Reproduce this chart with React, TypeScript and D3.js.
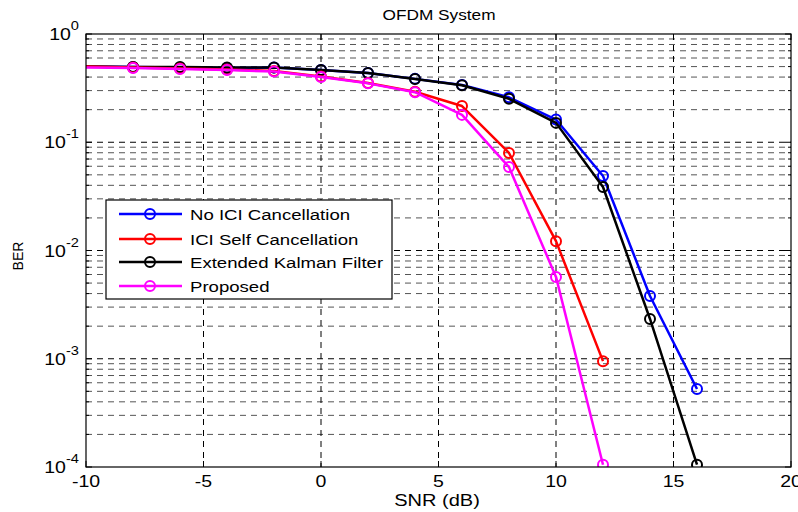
import React from "react";
import * as d3 from "d3";

const snr = [-10, -8, -6, -4, -2, 0, 2, 4, 6, 8, 10, 12, 14, 16];
const noICI = [0.5, 0.495, 0.49, 0.485, 0.49, 0.465, 0.436, 0.385, 0.338, 0.26, 0.162, 0.0488, 0.0038, 0.000525];
const iciSelf = [0.5, 0.49, 0.48, 0.47, 0.455, 0.405, 0.353, 0.293, 0.216, 0.0796, 0.0122, 0.00095];
const ekf = [0.5, 0.495, 0.495, 0.49, 0.49, 0.465, 0.436, 0.384, 0.336, 0.252, 0.151, 0.0386, 0.00233, 0.000105];
const proposed = [0.49, 0.485, 0.475, 0.465, 0.45, 0.4, 0.35, 0.29, 0.179, 0.059, 0.0057, 0.000105];

const seriesNames = ["No ICI Cancellation", "ICI Self Cancellation", "Extended Kalman Filter", "Proposed"];
const seriesValues = [noICI, iciSelf, ekf, proposed];
const seriesColors = ["#0000ff", "#ff0000", "#000000", "#ff00ff"];
const drawOrder = [0, 2, 1, 3];

const xTicks = [-10, -5, 0, 5, 10, 15, 20];
const yExps = [0, -1, -2, -3, -4];
const title = "OFDM System";
const xLabel = "SNR (dB)";
const yLabel = "BER";

const W = 798, H = 512;
const L = 86, R = 791, T = 34, B = 467;
const FONT = "'Liberation Sans', Arial, Helvetica, sans-serif";
const SX = 1.22;

function WText({ x, y, anchor = "start", size = 16, sx = SX, children }: any) {
  return (
    <text transform={`translate(${x},${y}) scale(${sx},1)`} textAnchor={anchor} fontSize={size} fill="#000">
      {children}
    </text>
  );
}

export default function App() {
  const x = d3.scaleLinear().domain([-10, 20]).range([L, R]);
  const y = d3.scaleLog().domain([1e-4, 1]).range([B, T]);
  const line = d3.line<[number, number]>().x(d => x(d[0])).y(d => y(d[1]));

  const minor: number[] = [];
  for (let e = -4; e < 0; e++) for (let m = 2; m <= 9; m++) minor.push(m * Math.pow(10, e));

  const dash = "6,5";
  return (
    <svg width={W} height={H} style={{ position: "absolute", left: 0, top: 0, background: "#fff" }} fontFamily={FONT}>
      <defs>
        <clipPath id="plot"><rect x={L} y={T} width={R - L} height={B - T} /></clipPath>
      </defs>
      <rect x={0} y={0} width={W} height={H} fill="#fff" />
      <g stroke="#000" strokeWidth={1} strokeDasharray={dash} fill="none">
        {minor.map((v, i) => (
          <line key={"m" + i} x1={L} x2={R} y1={y(v)} y2={y(v)} stroke="#555" />
        ))}
        {yExps.slice(1, 4).map(e => (
          <line key={"y" + e} x1={L} x2={R} y1={y(Math.pow(10, e))} y2={y(Math.pow(10, e))} />
        ))}
        {xTicks.slice(1, -1).map(t => (
          <line key={"x" + t} x1={x(t)} x2={x(t)} y1={T} y2={B} />
        ))}
      </g>
      <g stroke="#000" strokeWidth={1}>
        {xTicks.map(t => (
          <g key={"xt" + t}>
            <line x1={x(t)} x2={x(t)} y1={B} y2={B - 6} />
            <line x1={x(t)} x2={x(t)} y1={T} y2={T + 6} />
          </g>
        ))}
        {yExps.map(e => (
          <g key={"yt" + e}>
            <line x1={L} x2={L + 6} y1={y(Math.pow(10, e))} y2={y(Math.pow(10, e))} />
            <line x1={R} x2={R - 6} y1={y(Math.pow(10, e))} y2={y(Math.pow(10, e))} />
          </g>
        ))}
        {minor.map((v, i) => (
          <g key={"mt" + i}>
            <line x1={L} x2={L + 3} y1={y(v)} y2={y(v)} />
            <line x1={R} x2={R - 3} y1={y(v)} y2={y(v)} />
          </g>
        ))}
      </g>
      <g clipPath="url(#plot)">
        {drawOrder.map(si => {
          const pts: [number, number][] = seriesValues[si].map((v, i) => [snr[i], v]);
          return (
            <g key={"s" + si}>
              <path d={line(pts) || ""} fill="none" stroke={seriesColors[si]} strokeWidth={2.5} strokeLinejoin="round" />
              {pts.filter(p => p[0] > -10).map((p, i) => (
                <circle key={i} cx={x(p[0])} cy={y(p[1])} r={5} fill="none" stroke={seriesColors[si]} strokeWidth={2} />
              ))}
            </g>
          );
        })}
      </g>
      <rect x={L} y={T} width={R - L} height={B - T} fill="none" stroke="#000" strokeWidth={1.2} />
      {xTicks.map(t => (
        <WText key={"xl" + t} x={x(t)} y={487} anchor="middle">{t}</WText>
      ))}
      {yExps.map(e => (
        <WText key={"yl" + e} x={79} y={y(Math.pow(10, e)) + 6} anchor="end">
          10<tspan fontSize={12} dy={-10}>{e}</tspan>
        </WText>
      ))}
      <WText x={439} y={20} anchor="middle" size={15} sx={1.15}>{title}</WText>
      <WText x={437} y={506} anchor="middle" sx={1.25}>{xLabel}</WText>
      <text transform={`translate(23,256) rotate(-90)`} textAnchor="middle" fontSize={14}>{yLabel}</text>
      <g>
        <rect x={106} y={200} width={286} height={99} fill="#fff" stroke="#000" strokeWidth={1.2} />
        {seriesNames.map((n, i) => {
          const ly = [214, 239, 262, 286][i];
          return (
            <g key={"lg" + i}>
              <line x1={119} x2={182} y1={ly} y2={ly} stroke={seriesColors[i]} strokeWidth={2.5} />
              <circle cx={150} cy={ly} r={5} fill="none" stroke={seriesColors[i]} strokeWidth={2} />
              <WText x={190} y={ly + 6} size={15} sx={1.24}>{n}</WText>
            </g>
          );
        })}
      </g>
    </svg>
  );
}
